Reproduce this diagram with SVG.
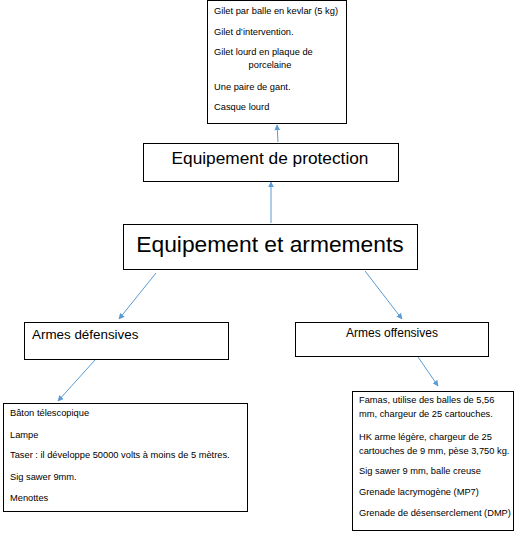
<svg xmlns="http://www.w3.org/2000/svg" width="523" height="535" viewBox="0 0 523 535">
<style>
.box{fill:#fff;stroke:#000;stroke-width:1}
.t{font-family:"Liberation Sans",Arial,sans-serif;fill:#000}
.s{font-size:9.3px}
.c{stroke:#5b9bd5;stroke-width:1;fill:none;marker-end:url(#ah)}
</style>
<defs>
<marker id="ah" viewBox="0 0 10 10" refX="9" refY="5" markerWidth="6" markerHeight="6" orient="auto" markerUnits="userSpaceOnUse">
<path d="M0,0 L10,5 L0,10 z" fill="#5b9bd5"/>
</marker>
</defs>
<rect width="523" height="535" fill="#fff"/>
<g id="connectors">
<line class="c" x1="271" y1="223" x2="271" y2="182"/>
<line class="c" x1="278" y1="142" x2="277" y2="125"/>
<line class="c" x1="156" y1="273" x2="119" y2="319"/>
<line class="c" x1="365" y1="271" x2="402" y2="319"/>
<line class="c" x1="95" y1="360" x2="58" y2="401"/>
<line class="c" x1="418" y1="357" x2="438" y2="386"/>
</g>
<g id="protection-list">
<rect class="box" x="207.5" y="0.5" width="139" height="123"/>
<g class="t s">
<text x="214" y="14">Gilet par balle en kevlar (5 kg)</text>
<text x="214" y="35">Gilet d’intervention.</text>
<text x="214" y="55">Gilet lourd en plaque de</text>
<text x="270" y="68" text-anchor="middle">porcelaine</text>
<text x="214" y="90">Une paire de gant.</text>
<text x="214" y="110">Casque lourd</text>
</g>
</g>
<g id="protection">
<rect class="box" x="143.5" y="143.5" width="255" height="38"/>
<text class="t" x="270" y="164" font-size="17.3" text-anchor="middle">Equipement de protection</text>
</g>
<g id="root">
<rect class="box" x="123.5" y="224.5" width="294" height="45"/>
<text class="t" x="270" y="252" font-size="22.8" text-anchor="middle">Equipement et armements</text>
</g>
<g id="defensives">
<rect class="box" x="24.5" y="322.5" width="204" height="37"/>
<text class="t" x="32" y="339" font-size="13.4">Armes défensives</text>
</g>
<g id="offensives">
<rect class="box" x="295.5" y="322.5" width="193" height="34"/>
<text class="t" x="392" y="337" font-size="12" text-anchor="middle">Armes offensives</text>
</g>
<g id="defensive-list">
<rect class="box" x="3.5" y="403.5" width="244" height="108"/>
<g class="t s">
<text x="10" y="416">Bâton télescopique</text>
<text x="10" y="438">Lampe</text>
<text x="10" y="458">Taser : il développe 50000 volts à moins de 5 mètres.</text>
<text x="10" y="480">Sig sawer 9mm.</text>
<text x="10" y="501">Menottes</text>
</g>
</g>
<g id="offensive-list">
<rect class="box" x="352.5" y="391.5" width="161" height="139"/>
<g class="t s">
<text x="359" y="403">Famas, utilise des balles de 5,56</text>
<text x="359" y="417">mm, chargeur de 25 cartouches.</text>
<text x="359" y="440">HK arme légère, chargeur de 25</text>
<text x="359" y="454">cartouches de 9 mm, pèse 3,750 kg.</text>
<text x="359" y="474">Sig sawer 9 mm, balle creuse</text>
<text x="359" y="495">Grenade lacrymogène (MP7)</text>
<text x="359" y="516">Grenade de désenserclement (DMP)</text>
</g>
</g>
</svg>
